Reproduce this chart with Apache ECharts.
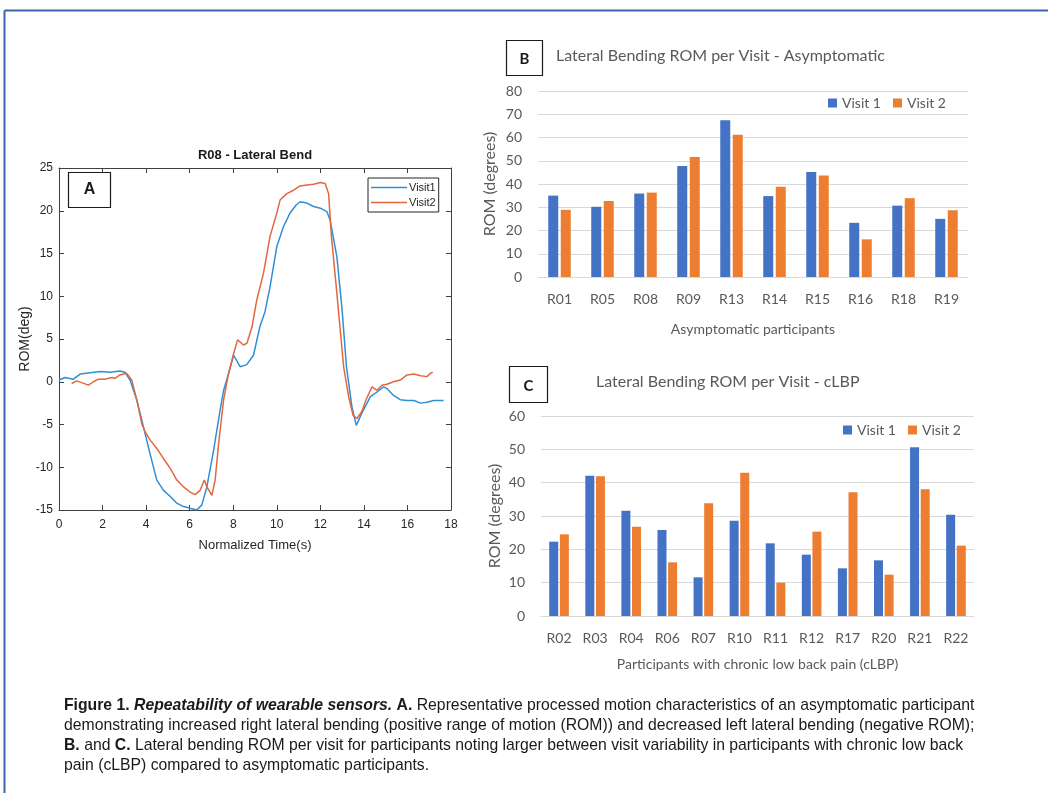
<!DOCTYPE html>
<html>
<head>
<meta charset="utf-8">
<script src="https://cdn.jsdelivr.net/npm/echarts@6/dist/echarts.min.js"></script>
<style>
html,body{margin:0;padding:0;background:#fff;}
#chart{width:1048px;height:793px;}
</style>
</head>
<body>
<div id="chart"></div>
<script>
// ---- Panel A: R08 lateral bend time series ----
const timeVisit1 = [0.0,0.28,0.66,0.97,1.43,1.9,2.34,2.8,3.03,3.26,3.57,3.88,4.18,4.49,4.8,5.1,5.41,5.72,6.02,6.33,6.56,6.79,7.1,7.4,7.56,7.79,8.02,8.32,8.62,8.93,9.23,9.46,9.69,10.0,10.3,10.6,10.9,11.07,11.38,11.69,12.0,12.3,12.45,12.76,13.0,13.2,13.45,13.65,13.9,14.3,14.6,14.9,15.06,15.36,15.67,15.98,16.3,16.6,16.9,17.2,17.66];
const romVisit1 = [0.2,0.5,0.3,0.9,1.05,1.2,1.1,1.25,1.1,0.2,-2.1,-5.3,-8.4,-11.5,-12.7,-13.4,-14.2,-14.6,-14.8,-15.0,-14.4,-12.3,-8.0,-3.3,-1.0,1.0,3.1,1.75,2.0,3.1,6.5,8.2,11.1,15.8,18.1,19.7,20.7,21.05,20.9,20.5,20.3,19.9,18.9,14.6,8.4,1.75,-2.9,-5.1,-3.7,-1.75,-1.2,-0.6,-0.8,-1.6,-2.1,-2.2,-2.2,-2.5,-2.4,-2.2,-2.2];
const timeVisit2 = [0.58,0.81,1.04,1.35,1.58,1.81,2.1,2.42,2.57,2.8,3.1,3.34,3.57,3.8,3.95,4.18,4.49,4.8,5.1,5.41,5.72,6.02,6.25,6.48,6.67,6.79,7.02,7.17,7.33,7.56,7.79,8.02,8.2,8.47,8.63,8.86,9.08,9.39,9.69,10.0,10.15,10.46,10.77,11.07,11.38,11.69,12.0,12.22,12.38,12.5,12.76,13.07,13.3,13.5,13.68,13.9,14.1,14.37,14.6,14.83,15.06,15.36,15.67,15.98,16.3,16.6,16.9,17.05,17.17];
const romVisit2 = [-0.2,0.1,-0.1,-0.4,0.0,0.3,0.3,0.5,0.4,0.8,1.0,0.2,-2.1,-4.9,-5.85,-6.8,-7.8,-9.0,-10.1,-11.5,-12.3,-12.9,-13.2,-12.7,-11.5,-12.3,-13.3,-11.5,-7.2,-2.1,1.0,3.3,4.9,4.3,4.5,6.4,9.55,12.7,17.0,19.7,21.25,22.0,22.4,22.9,23.0,23.1,23.3,23.2,22.0,17.3,10.3,1.75,-1.75,-3.9,-4.3,-3.5,-2.1,-0.6,-1.0,-0.4,-0.3,0.0,0.2,0.8,0.9,0.7,0.6,1.0,1.1];

// ---- Panel B: asymptomatic participants ----
const participantsB = ['R01','R05','R08','R09','R13','R14','R15','R16','R18','R19'];
const visit1B = [35.0,30.2,35.9,47.7,67.4,34.8,45.2,23.3,30.7,25.0];
const visit2B = [28.9,32.7,36.3,51.6,61.2,38.8,43.7,16.2,33.9,28.7];

// ---- Panel C: cLBP participants ----
const participantsC = ['R02','R03','R04','R06','R07','R10','R11','R12','R17','R20','R21','R22'];
const visit1C = [22.3,42.1,31.6,25.8,11.6,28.6,21.8,18.4,14.3,16.7,50.6,30.4];
const visit2C = [24.5,41.9,26.8,16.1,33.8,43.0,10.0,25.3,37.1,12.4,38.0,21.1];

const captionLines = [
  '{b|Figure 1.} {bi|Repeatability of wearable sensors.} {b|A.} Representative processed motion characteristics of an asymptomatic participant',
  'demonstrating increased right lateral bending (positive range of motion (ROM)) and decreased left lateral bending (negative ROM);',
  '{b|B.} and {b|C.} Lateral bending ROM per visit for participants noting larger between visit variability in participants with chronic low back',
  'pain (cLBP) compared to asymptomatic participants.'
];

const zip = (a, b) => a.map((v, i) => [v, b[i]]);

const matFont = 'Liberation Sans, Arial, sans-serif';
const xlFont = 'Lato, Open Sans, sans-serif';
const matAxisColor = '#404040';
const xlText = '#595959';
const blueXL = '#4472C4', orangeXL = '#ED7D31';
const capSize = 15.75;

function matAxis(extra) {
  return Object.assign({
    gridIndex: 0, type: 'value',
    axisLine: { show: true, onZero: false, lineStyle: { color: matAxisColor, width: 1 } },
    axisTick: { show: true, inside: true, length: 5, lineStyle: { color: matAxisColor } },
    splitLine: { show: false },
    axisLabel: { color: '#262626', fontFamily: matFont, fontSize: 12 }
  }, extra);
}
function xlValueAxis(grid, max) {
  return {
    gridIndex: grid, type: 'value', min: 0, max: max, interval: 10,
    axisLine: { show: false }, axisTick: { show: false },
    splitLine: { show: true, lineStyle: { color: '#d9d9d9', width: 1 } },
    axisLabel: { color: xlText, fontFamily: xlFont, fontSize: 14, margin: 16 },
    name: 'ROM (degrees)', nameLocation: 'middle', nameRotate: 90,
    nameTextStyle: { color: xlText, fontFamily: xlFont, fontSize: 16 }
  };
}
function xlCatAxis(grid, data, title, gap) {
  return {
    gridIndex: grid, type: 'category', data: data,
    axisLine: { show: true, onZero: false, lineStyle: { color: '#d9d9d9', width: 1 } },
    axisTick: { show: false },
    axisLabel: { color: xlText, fontFamily: xlFont, fontSize: 14, margin: 15 },
    name: title, nameLocation: 'middle', nameGap: gap,
    nameTextStyle: { color: xlText, fontFamily: xlFont, fontSize: 14 }
  };
}

const captionGraphics = captionLines.map((t, i) => ({
  type: 'text', x: 64, y: 706 + i * 20,
  style: {
    text: t, verticalAlign: 'middle', align: 'left',
    fill: '#1a1a1a', fontFamily: matFont, fontSize: capSize,
    rich: {
      b: { fontWeight: 'bold', fontFamily: matFont, fontSize: capSize, fill: '#1a1a1a' },
      bi: { fontWeight: 'bold', fontStyle: 'italic', fontFamily: matFont, fontSize: capSize, fill: '#1a1a1a' }
    }
  }
}));

const chart = echarts.init(document.getElementById('chart'), null, { renderer: 'canvas' });
chart.setOption({
  animation: false,
  backgroundColor: '#ffffff',
  grid: [
    { left: 59, top: 168, width: 392, height: 342, containLabel: false },
    { left: 538, top: 91, width: 430, height: 186, containLabel: false },
    { left: 541, top: 416, width: 433, height: 200, containLabel: false }
  ],
  xAxis: [
    matAxis({ min: 0, max: 18, interval: 2, position: 'bottom', axisLabel: { color: '#262626', fontFamily: matFont, fontSize: 12, margin: 9 },
      name: 'Normalized Time(s)', nameLocation: 'middle', nameGap: 29,
      nameTextStyle: { color: '#262626', fontFamily: matFont, fontSize: 13 } }),
    matAxis({ min: 0, max: 18, interval: 2, position: 'top', axisLabel: { show: false } }),
    xlCatAxis(1, participantsB, 'Asymptomatic participants', 45),
    xlCatAxis(2, participantsC, 'Participants with chronic low back pain (cLBP)', 41)
  ],
  yAxis: [
    matAxis({ min: -15, max: 25, interval: 5, position: 'left', axisLabel: { color: '#262626', fontFamily: matFont, fontSize: 12, margin: 6 },
      name: 'ROM(deg)', nameLocation: 'middle', nameRotate: 90, nameGap: 26,
      nameTextStyle: { color: '#262626', fontFamily: matFont, fontSize: 14 } }),
    matAxis({ min: -15, max: 25, interval: 5, position: 'right', axisLabel: { show: false } }),
    Object.assign(xlValueAxis(1, 80), { nameGap: 40 }),
    Object.assign(xlValueAxis(2, 60), { nameGap: 38 })
  ],
  legend: [
    { data: ['Visit1', 'Visit2'], orient: 'vertical', left: 368, top: 178, icon: 'rect',
      itemWidth: 36, itemHeight: 1.5, itemGap: 4, padding: [4, 3, 4, 3],
      borderColor: '#262626', borderWidth: 1, backgroundColor: '#ffffff',
      textStyle: { fontFamily: matFont, fontSize: 11, color: '#262626', padding: [0, 0, 0, -3] } },
    { data: ['Visit 1', 'Visit 2'], left: 828, top: 96, icon: 'rect', padding: 0,
      itemWidth: 9, itemHeight: 9, itemGap: 12,
      textStyle: { fontFamily: xlFont, fontSize: 14, color: xlText } },
    { data: ['Visit 1', 'Visit 2'], left: 843, top: 423, icon: 'rect', padding: 0,
      itemWidth: 9, itemHeight: 9, itemGap: 12,
      textStyle: { fontFamily: xlFont, fontSize: 14, color: xlText } }
  ],
  series: [
    { name: 'Visit1', type: 'line', xAxisIndex: 0, yAxisIndex: 0, data: zip(timeVisit1, romVisit1),
      symbol: 'none', smooth: false, color: '#2f8fd6', lineStyle: { width: 1.5, color: '#2f8fd6' } },
    { name: 'Visit2', type: 'line', xAxisIndex: 0, yAxisIndex: 0, data: zip(timeVisit2, romVisit2),
      symbol: 'none', smooth: false, color: '#e2683e', lineStyle: { width: 1.5, color: '#e2683e' } },
    { name: 'Visit 1', type: 'bar', xAxisIndex: 2, yAxisIndex: 2, data: visit1B,
      barWidth: 10, barGap: '25%', itemStyle: { color: blueXL } },
    { name: 'Visit 2', type: 'bar', xAxisIndex: 2, yAxisIndex: 2, data: visit2B,
      barWidth: 10, barGap: '25%', itemStyle: { color: orangeXL } },
    { name: 'Visit 1', type: 'bar', xAxisIndex: 3, yAxisIndex: 3, data: visit1C,
      barWidth: 9, barGap: '18%', itemStyle: { color: blueXL } },
    { name: 'Visit 2', type: 'bar', xAxisIndex: 3, yAxisIndex: 3, data: visit2C,
      barWidth: 9, barGap: '18%', itemStyle: { color: orangeXL } }
  ],
  graphic: [
    // outer figure frame
    { type: 'line', shape: { x1: 4.5, y1: 10.5, x2: 1048, y2: 10.5 }, style: { stroke: '#3d62ad', lineWidth: 2 } },
    { type: 'line', shape: { x1: 4.5, y1: 10.5, x2: 4.5, y2: 793 }, style: { stroke: '#3d62ad', lineWidth: 2 } },
    // panel A title and tag
    { type: 'text', x: 255, y: 155, style: { text: 'R08 - Lateral Bend', align: 'center', verticalAlign: 'middle',
      fontFamily: matFont, fontSize: 13, fontWeight: 'bold', fill: '#1a1a1a' } },
    { type: 'rect', shape: { x: 68.5, y: 172.5, width: 42, height: 35 }, style: { fill: '#fff', stroke: '#1a1a1a', lineWidth: 1.2 }, z: 10 },
    { type: 'text', x: 89.5, y: 190, z: 11, style: { text: 'A', align: 'center', verticalAlign: 'middle',
      fontFamily: matFont, fontSize: 16, fontWeight: 'bold', fill: '#1a1a1a' } },
    // panel B title and tag
    { type: 'rect', shape: { x: 506.5, y: 40.5, width: 36, height: 35 }, style: { fill: '#fff', stroke: '#1a1a1a', lineWidth: 1.2 } },
    { type: 'text', x: 524.5, y: 59, style: { text: 'B', align: 'center', verticalAlign: 'middle',
      fontFamily: xlFont, fontSize: 15, fontWeight: 'bold', fill: '#1a1a1a' } },
    { type: 'text', x: 556, y: 56, style: { text: 'Lateral Bending ROM per Visit - Asymptomatic', align: 'left', verticalAlign: 'middle',
      fontFamily: xlFont, fontSize: 16, fill: xlText } },
    // panel C title and tag
    { type: 'rect', shape: { x: 509.5, y: 366.5, width: 38, height: 36 }, style: { fill: '#fff', stroke: '#1a1a1a', lineWidth: 1.2 } },
    { type: 'text', x: 528.5, y: 386, style: { text: 'C', align: 'center', verticalAlign: 'middle',
      fontFamily: xlFont, fontSize: 15, fontWeight: 'bold', fill: '#1a1a1a' } },
    { type: 'text', x: 596, y: 382, style: { text: 'Lateral Bending ROM per Visit - cLBP', align: 'left', verticalAlign: 'middle',
      fontFamily: xlFont, fontSize: 16, fill: xlText } }
  ].concat(captionGraphics)
});
</script>
</body>
</html>
